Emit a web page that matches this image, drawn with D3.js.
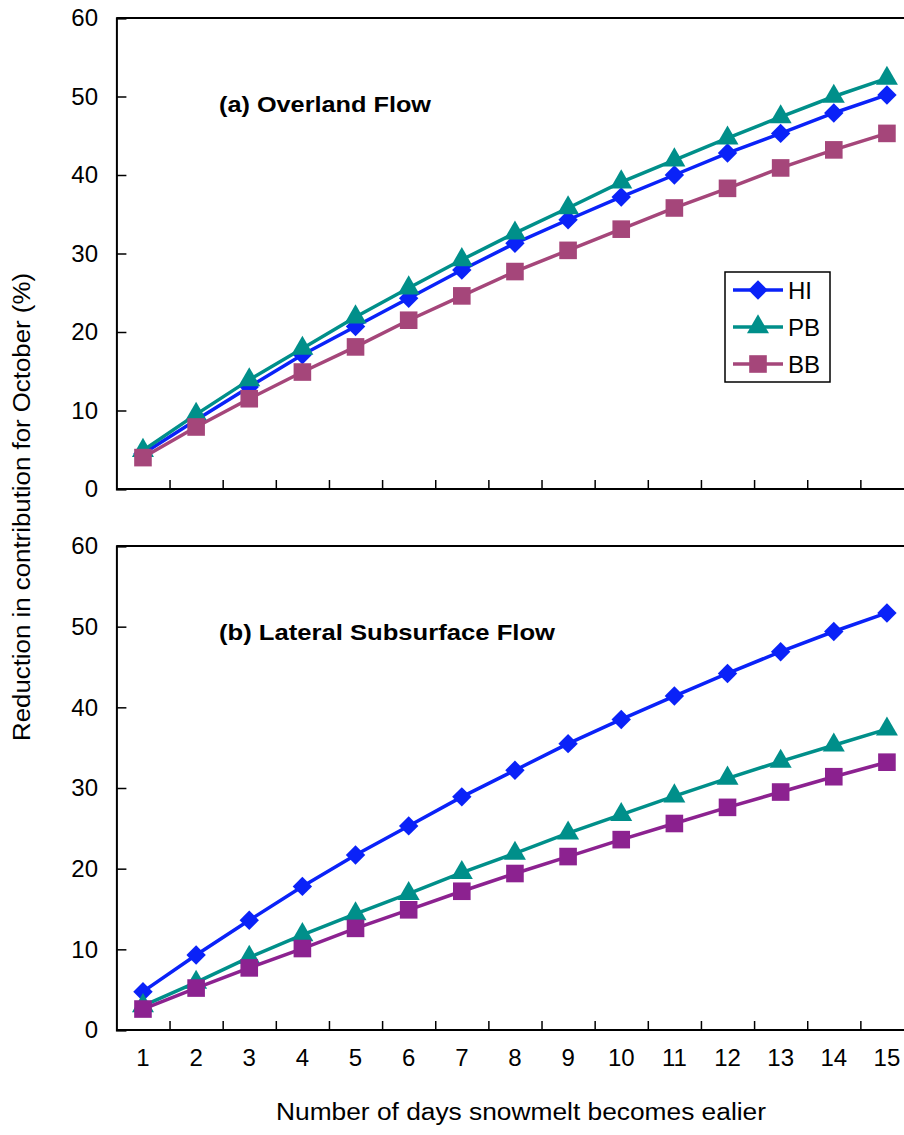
<!DOCTYPE html>
<html>
<head>
<meta charset="utf-8">
<script src="https://cdn.jsdelivr.net/npm/d3@7"></script>
<style>
body { margin: 0; background: #fff; }
svg { display: block; font-family: "Liberation Sans", Arial, sans-serif; }
</style>
</head>
<body>
<svg id="chart"></svg>
<script>
let days = [1, 2, 3, 4, 5, 6, 7, 8, 9, 10, 11, 12, 13, 14, 15]
let yTicks = [0, 10, 20, 30, 40, 50, 60]
let seriesNames = ['HI', 'PB', 'BB']

// (a) overland flow
let overlandHI = [4.5, 8.8, 13.0, 17.1, 20.7, 24.3, 27.9, 31.3, 34.3, 37.2, 40.0, 42.8, 45.3, 47.9, 50.2]
let overlandPB = [4.9, 9.5, 13.9, 17.9, 21.9, 25.6, 29.2, 32.6, 35.8, 39.1, 41.9, 44.7, 47.4, 50.0, 52.3]
let overlandBB = [4.0, 7.9, 11.5, 14.9, 18.1, 21.5, 24.6, 27.7, 30.4, 33.1, 35.8, 38.3, 40.9, 43.2, 45.3]

// (b) lateral subsurface flow
let lateralHI = [4.75, 9.3, 13.6, 17.8, 21.7, 25.3, 28.9, 32.2, 35.5, 38.5, 41.4, 44.2, 46.9, 49.4, 51.7]
let lateralPB = [3.0, 5.9, 9.0, 11.8, 14.4, 16.9, 19.5, 21.9, 24.4, 26.7, 29.0, 31.2, 33.3, 35.3, 37.3]
let lateralBB = [2.6, 5.2, 7.7, 10.1, 12.6, 14.9, 17.2, 19.4, 21.5, 23.6, 25.6, 27.6, 29.5, 31.4, 33.2]

let width = 904
let height = 1135
let left = 116.4
let right = 913.5

let svg = d3.select('#chart')
    .attr('width', width)
    .attr('height', height)

let xScale = d3.scaleLinear()
    .domain([0.5, 15.5])
    .range([left, right])

let symbolOf = {
    HI: d3.symbolDiamond2,
    PB: d3.symbolTriangle,
    BB: d3.symbolSquare
}
let sizeOf = { HI: 240, PB: 210, BB: 310 }

let drawPanel = (top, bottom, title, titleLen, data, colors) => {
    let yScale = d3.scaleLinear()
        .domain([0, 60])
        .range([bottom, top])

    let g = svg.append('g')

    // frame: top line
    g.append('line')
        .attr('x1', left).attr('x2', width)
        .attr('y1', top).attr('y2', top)
        .attr('stroke', '#000').attr('stroke-width', 2)

    let yAxis = d3.axisRight(yScale)
        .tickValues(yTicks)
        .tickSize(10)
        .tickFormat('')
    g.append('g')
        .attr('transform', 'translate(' + left + ',0)')
        .call(yAxis)
        .call(a => a.select('.domain').attr('stroke-width', 2))
        .call(a => a.selectAll('.tick line').attr('stroke-width', 1.5))

    g.selectAll('.ylab')
        .data(yTicks)
        .enter()
        .append('text')
        .attr('class', 'ylab')
        .attr('x', 98)
        .attr('y', d => yScale(d))
        .attr('dy', '0.35em')
        .attr('text-anchor', 'end')
        .attr('font-size', 24)
        .text(d => d)

    let xAxis = d3.axisTop(xScale)
        .tickValues(d3.range(1.5, 15, 1))
        .tickSize(9)
        .tickFormat('')
    g.append('g')
        .attr('transform', 'translate(0,' + bottom + ')')
        .call(xAxis)
        .call(a => a.select('.domain').attr('stroke-width', 2).attr('d', 'M' + left + ',0H' + right))
        .call(a => a.selectAll('.tick line').attr('stroke-width', 1.5))

    g.append('text')
        .attr('x', 219)
        .attr('y', top + 94)
        .attr('font-size', 22)
        .attr('font-weight', 'bold')
        .attr('textLength', titleLen)
        .attr('lengthAdjust', 'spacingAndGlyphs')
        .text(title)

    let line = d3.line()
        .x((d, i) => xScale(days[i]))
        .y(d => yScale(d))

    seriesNames.forEach((name, k) => {
        g.append('path')
            .datum(data[k])
            .attr('fill', 'none')
            .attr('stroke', colors[k])
            .attr('stroke-width', 3.5)
            .attr('d', line)
        g.selectAll('.m' + name)
            .data(data[k])
            .enter()
            .append('path')
            .attr('class', 'm' + name)
            .attr('transform', (d, i) => 'translate(' + xScale(days[i]) + ',' + yScale(d) + ')')
            .attr('d', d3.symbol().type(symbolOf[name]).size(sizeOf[name]))
            .attr('fill', colors[k])
    })
}

let topColors = ['#0a22f8', '#008f8a', '#a5467a']
let bottomColors = ['#0a22f8', '#008f8a', '#8c2290']

drawPanel(18, 489, '(a) Overland Flow', 212, [overlandHI, overlandPB, overlandBB], topColors)
drawPanel(546, 1030, '(b) Lateral Subsurface Flow', 336, [lateralHI, lateralPB, lateralBB], bottomColors)

// legend
let legend = svg.append('g')
legend.append('rect')
    .attr('x', 725).attr('y', 272)
    .attr('width', 105).attr('height', 110)
    .attr('fill', '#fff').attr('stroke', '#000').attr('stroke-width', 1.5)

seriesNames.forEach((name, k) => {
    let ly = 290 + k * 37
    legend.append('line')
        .attr('x1', 733).attr('x2', 783)
        .attr('y1', ly).attr('y2', ly)
        .attr('stroke', topColors[k]).attr('stroke-width', 3.5)
    legend.append('path')
        .attr('transform', 'translate(758,' + ly + ')')
        .attr('d', d3.symbol().type(symbolOf[name]).size(sizeOf[name]))
        .attr('fill', topColors[k])
    legend.append('text')
        .attr('x', 788).attr('y', ly)
        .attr('dy', '0.36em')
        .attr('font-size', 24)
        .text(name)
})

// x labels under the lower panel
svg.selectAll('.xlab')
    .data(days)
    .enter()
    .append('text')
    .attr('class', 'xlab')
    .attr('x', d => xScale(d))
    .attr('y', 1058)
    .attr('dy', '0.35em')
    .attr('text-anchor', 'middle')
    .attr('font-size', 24)
    .text(d => d)

svg.append('text')
    .attr('x', 521)
    .attr('y', 1112)
    .attr('dy', '0.35em')
    .attr('text-anchor', 'middle')
    .attr('font-size', 23)
    .attr('textLength', 490)
    .attr('lengthAdjust', 'spacingAndGlyphs')
    .text('Number of days snowmelt becomes ealier')

svg.append('text')
    .attr('transform', 'translate(22,507) rotate(-90)')
    .attr('dy', '0.35em')
    .attr('text-anchor', 'middle')
    .attr('font-size', 23)
    .attr('textLength', 468)
    .attr('lengthAdjust', 'spacingAndGlyphs')
    .text('Reduction in contribution for October (%)')
</script>
</body>
</html>
